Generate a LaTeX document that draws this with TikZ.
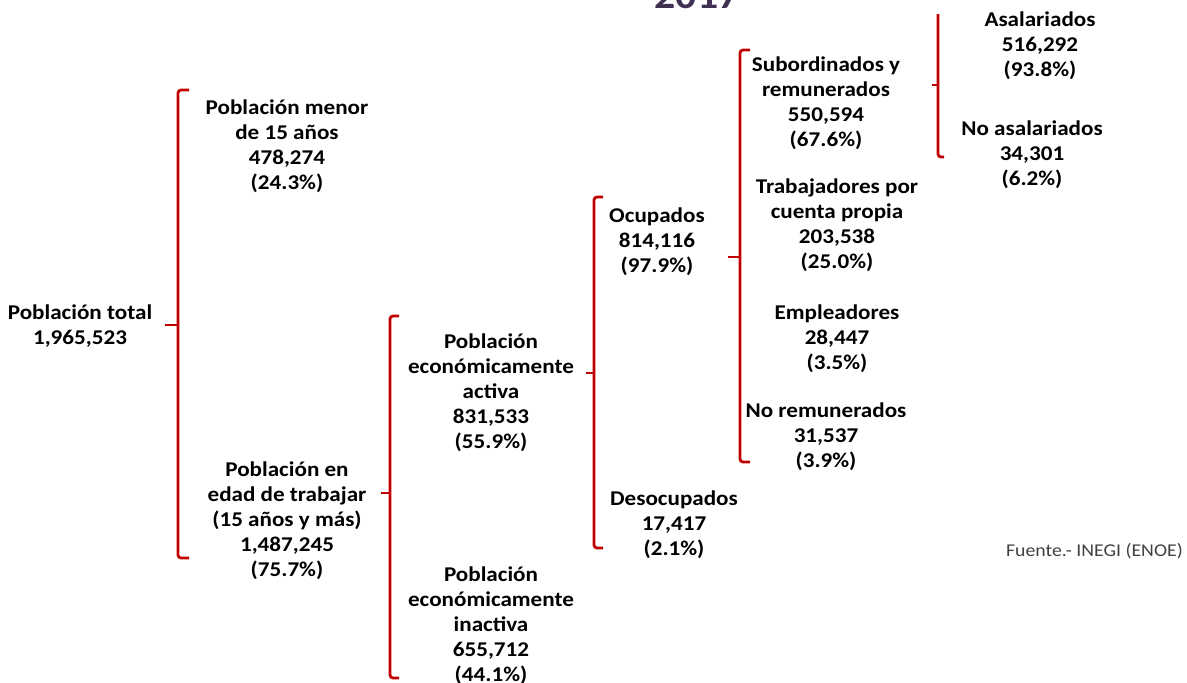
\documentclass[tikz,border=0pt]{standalone}
\usepackage{fontspec}
\setmainfont{Carlito}[FakeStretch=1.1]
\usetikzlibrary{calc}

\definecolor{rojo}{HTML}{C00000}
\definecolor{morado}{HTML}{403152}
\definecolor{gris}{HTML}{404040}

\tikzset{
  dato/.style={align=center, inner sep=0pt, text=black,
    font=\fontsize{21}{25}\selectfont\bfseries},
  llave/.style={draw=rojo, line width=2.8pt, rounded corners=3pt}
}

\begin{document}
\begin{tikzpicture}[x=1pt,y=-1pt]
  \useasboundingbox (0,0) rectangle (1187,683);

  % titulo (cortado arriba)
  \node[anchor=base, inner sep=0pt, text=morado,
    font=\fontsize{38}{40}\selectfont\bfseries] (anio) at (697,8) {2017};

  % niveles del arbol
  \node[dato] (total) at (80,326) {Población total\\1,965,523};

  \node[dato] (menor) at (287,146) {Población menor\\de 15 años\\478,274\\(24.3\%)};
  \node[dato] (edad) at (287,521) {Población en\\edad de trabajar\\(15 años y más)\\1,487,245\\(75.7\%)};

  \node[dato] (activa) at (491,393) {Población\\económicamente\\activa\\831,533\\(55.9\%)};
  \node[dato] (inactiva) at (491,626) {Población\\económicamente\\inactiva\\655,712\\(44.1\%)};

  \node[dato] (ocup) at (657,242) {Ocupados\\814,116\\(97.9\%)};
  \node[dato] (desoc) at (674,525) {Desocupados\\17,417\\(2.1\%)};

  \node[dato] (subord) at (826,103) {Subordinados y\\remunerados\\550,594\\(67.6\%)};
  \node[dato] (cuenta) at (837,225) {Trabajadores por\\cuenta propia\\203,538\\(25.0\%)};
  \node[dato] (empl) at (837,339) {Empleadores\\28,447\\(3.5\%)};
  \node[dato] (norem) at (826,437) {No remunerados\\31,537\\(3.9\%)};

  \node[dato] (asal) at (1040,46) {Asalariados\\516,292\\(93.8\%)};
  \node[dato] (noasal) at (1032,155) {No asalariados\\34,301\\(6.2\%)};

  \node[anchor=east, inner sep=0pt, text=gris,
    font=\fontsize{18}{20}\selectfont] (fuente) at (1183,551) {Fuente.- INEGI (ENOE)};

  % llaves
  \draw[llave] (189,90) -- (178,90) -- (178,558) -- (189,558);
  \draw[llave] (178,325) -- (165,325);

  \draw[llave] (399,316) -- (390,316) -- (390,678) -- (399,678);
  \draw[llave] (390,493) -- (381,493);

  \draw[llave] (603,197) -- (594,197) -- (594,548) -- (603,548);
  \draw[llave] (594,373) -- (586,373);

  \draw[llave] (750,50) -- (740,50) -- (740,462) -- (750,462);
  \draw[llave] (740,257) -- (728,257);

  \draw[llave] (938,14) -- (938,157) -- (944,157);
  \draw[llave] (938,85) -- (932,85);
\end{tikzpicture}
\end{document}
